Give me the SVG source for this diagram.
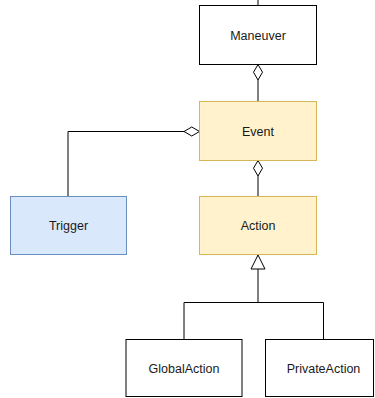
<svg xmlns="http://www.w3.org/2000/svg" width="375" height="398" viewBox="0 0 375 398">
  <defs>
    <style>
      .box { stroke-width: 1; }
      .plain { fill: #ffffff; stroke: #000000; }
      .yellow { fill: #fff2cc; stroke: #d6b656; }
      .blue { fill: #dae8fc; stroke: #6c8ebf; }
      .label { font-family: "Liberation Sans", Arial, sans-serif; font-size: 12.5px; fill: #1a1a1a; text-anchor: middle; dominant-baseline: central; }
      .edge { fill: none; stroke: #000000; stroke-width: 1; }
      .diamond { fill: #ffffff; stroke: #000000; stroke-width: 1; }
    </style>
  </defs>
  <rect width="375" height="398" fill="#ffffff"/>

  <g id="connectors">
    <!-- stub above Maneuver -->
    <path class="edge" d="M258 0 V5.5"/>
    <!-- Maneuver <>- Event -->
    <path class="edge" d="M258 80 V101.5"/>
    <path class="diamond" d="M258 64.5 L262.5 72.25 L258 80 L253.5 72.25 Z"/>
    <!-- Event <>- Trigger -->
    <path class="edge" d="M184 131.5 H68 V196.5"/>
    <path class="diamond" d="M199.5 131.5 L191.75 136 L184 131.5 L191.75 127 Z"/>
    <!-- Event <>- Action -->
    <path class="edge" d="M258 176 V196.5"/>
    <path class="diamond" d="M258 160.5 L262.5 168.25 L258 176 L253.5 168.25 Z"/>
    <!-- generalization to Action -->
    <path class="edge" d="M258 269 V302.5 M184 339.5 V302.5 H323.5 V339.5"/>
    <path class="diamond" d="M258 255 L265 269 L251 269 Z"/>
  </g>

  <g id="maneuver">
    <rect class="box plain" x="199.5" y="5.5" width="117" height="59"/>
    <text class="label" x="258" y="36">Maneuver</text>
  </g>
  <g id="event">
    <rect class="box yellow" x="199.5" y="101.5" width="117" height="59"/>
    <text class="label" x="258" y="131.5">Event</text>
  </g>
  <g id="trigger">
    <rect class="box blue" x="10.5" y="196.5" width="116" height="58"/>
    <text class="label" x="68.5" y="226">Trigger</text>
  </g>
  <g id="action">
    <rect class="box yellow" x="199.5" y="196.5" width="117" height="58"/>
    <text class="label" x="258" y="226">Action</text>
  </g>
  <g id="globalaction">
    <rect class="box plain" x="126" y="339.5" width="116" height="57"/>
    <text class="label" x="184" y="369">GlobalAction</text>
  </g>
  <g id="privateaction">
    <rect class="box plain" x="265.5" y="339.5" width="108" height="57"/>
    <text class="label" x="323.5" y="369">PrivateAction</text>
  </g>
</svg>
